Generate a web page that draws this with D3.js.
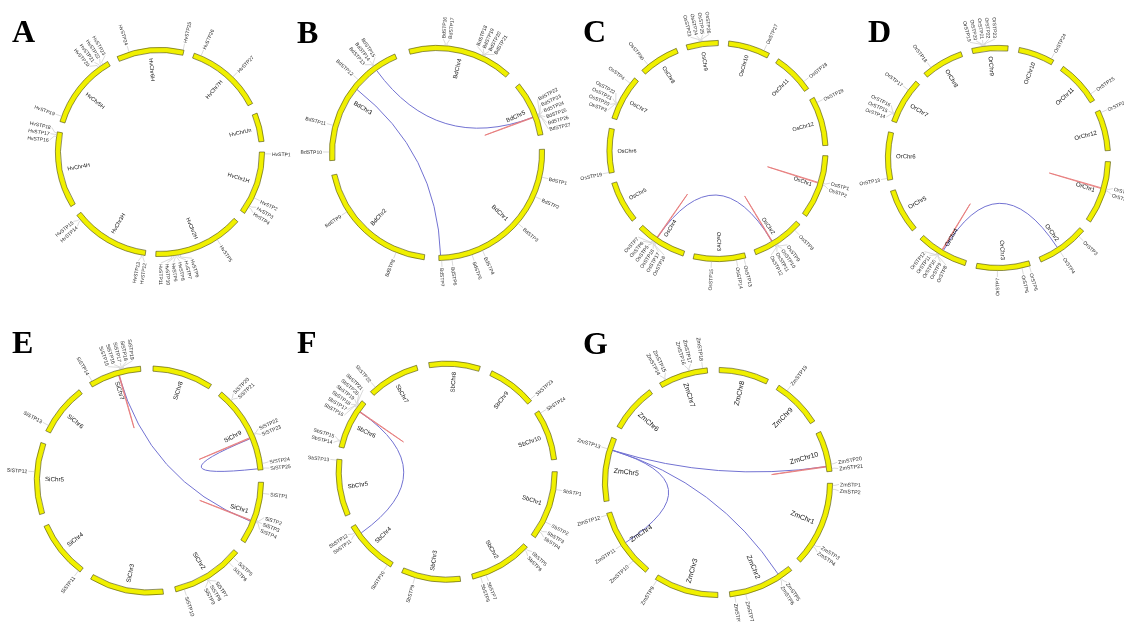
<!DOCTYPE html>
<html lang="en">
<head>
<meta charset="UTF-8">
<title>STP gene circos panels</title>
<script src="https://cdnjs.cloudflare.com/ajax/libs/d3/7.8.5/d3.min.js"></script>
<style>
    body { margin: 0; background: #fff; }
    svg { display: block; will-change: transform; }
    .gene { font-family: 'Liberation Sans', Arial, sans-serif; fill: #2a2a2a; }
    .chrname { font-family: 'Liberation Sans', Arial, sans-serif; fill: #111; }
    .letter { font-family: 'Liberation Serif', 'Times New Roman', serif; font-weight: bold; fill: #000; }
</style>
</head>
<body>
<svg id="chart" width="1124" height="622"></svg>
<script>
// ---------- A : barley ----------
const hvChr = ["HvChr1H", "HvChr2H", "HvChr3H", "HvChr4H", "HvChr5H", "HvChr6H", "HvChr7H", "HvChrUn"];
const hvLen = [36, 50.5, 44.5, 42.6, 43, 37.5, 43.2, 16];
const hvGenes = [
    ["HvSTP1", "HvChr1H", 1], ["HvSTP2", "HvChr1H", 26], ["HvSTP3", "HvChr1H", 31], ["HvSTP4", "HvChr1H", 32],
    ["HvSTP5", "HvChr2H", 15],
    ["HvSTP6", "HvChr2H", 37], ["HvSTP7", "HvChr2H", 38], ["HvSTP8", "HvChr2H", 39],
    ["HvSTP9", "HvChr2H", 40], ["HvSTP10", "HvChr2H", 41], ["HvSTP11", "HvChr2H", 42],
    ["HvSTP12", "HvChr3H", 1], ["HvSTP13", "HvChr3H", 2],
    ["HvSTP14", "HvChr3H", 41], ["HvSTP15", "HvChr3H", 42],
    ["HvSTP16", "HvChr4H", 40], ["HvSTP17", "HvChr4H", 41], ["HvSTP18", "HvChr4H", 42],
    ["HvSTP19", "HvChr5H", 3],
    ["HvSTP20", "HvChr5H", 37], ["HvSTP21", "HvChr5H", 38], ["HvSTP22", "HvChr5H", 39], ["HvSTP23", "HvChr5H", 40],
    ["HvSTP24", "HvChr6H", 7], ["HvSTP25", "HvChr6H", 37],
    ["HvSTP26", "HvChr7H", 4], ["HvSTP27", "HvChr7H", 25]
];
const hvLinks = [];
const hvTandem = [];

// ---------- B : Brachypodium ----------
const bdChr = ["BdChr1", "BdChr2", "BdChr3", "BdChr4", "BdChr5"];
const bdLen = [91, 71.2, 71, 57.4, 30.1];
const bdGenes = [
    ["BdSTP1", "BdChr1", 15], ["BdSTP2", "BdChr1", 26], ["BdSTP3", "BdChr1", 43], ["BdSTP4", "BdChr1", 67],
    ["BdSTP5", "BdChr1", 73], ["BdSTP6", "BdChr1", 84], ["BdSTP7", "BdChr1", 89.5],
    ["BdSTP8", "BdChr2", 15.5], ["BdSTP9", "BdChr2", 50],
    ["BdSTP10", "BdChr3", 4.6], ["BdSTP11", "BdChr3", 19], ["BdSTP12", "BdChr3", 47],
    ["BdSTP13", "BdChr3", 57.5], ["BdSTP14", "BdChr3", 58], ["BdSTP15", "BdChr3", 58.5],
    ["BdSTP16", "BdChr4", 19.5], ["BdSTP17", "BdChr4", 20.5],
    ["BdSTP18", "BdChr4", 40], ["BdSTP19", "BdChr4", 40.5], ["BdSTP20", "BdChr4", 41], ["BdSTP21", "BdChr4", 41.5],
    ["BdSTP22", "BdChr5", 18.8], ["BdSTP23", "BdChr5", 19.2], ["BdSTP24", "BdChr5", 19.6],
    ["BdSTP25", "BdChr5", 20], ["BdSTP26", "BdChr5", 20.4], ["BdSTP27", "BdChr5", 20.8]
];
const bdLinks = [["BdChr3", 57.9, "BdChr5", 19.6], ["BdChr3", 42.5, "BdChr1", 90]];
const bdTandem = [["BdChr5", 19.4, "BdChr5", 19.8]];

// ---------- C : rice (Os) ----------
const osChr = ["OsChr1", "OsChr2", "OsChr3", "OsChr4", "OsChr5", "OsChr6", "OsChr7", "OsChr8", "OsChr9", "OsChr10", "OsChr11", "OsChr12"];
const osLen = [33.8, 28, 27.6, 27, 22.4, 23.5, 24.1, 21.3, 16.9, 22.2, 22.1, 26.1];
const osGenes = [
    ["OsSTP1", "OsChr1", 14.5], ["OsSTP2", "OsChr1", 15.5],
    ["OsSTP8", "OsChr2", 4],
    ["OsSTP9", "OsChr2", 15.5], ["OsSTP10", "OsChr2", 16], ["OsSTP11", "OsChr2", 16.5], ["OsSTP12", "OsChr2", 17],
    ["OsSTP13", "OsChr3", 1], ["OsSTP14", "OsChr3", 5], ["OsSTP15", "OsChr3", 18],
    ["OsSTP16", "OsChr4", 15.5], ["OsSTP17", "OsChr4", 16], ["OsSTP18", "OsChr4", 16.5],
    ["OsSTP5", "OsChr4", 17], ["OsSTP6", "OsChr4", 17.5], ["OsSTP7", "OsChr4", 18],
    ["OsSTP19", "OsChr6", 0.4],
    ["OsSTP3", "OsChr7", 7], ["OsSTP20", "OsChr7", 7.5], ["OsSTP21", "OsChr7", 8], ["OsSTP22", "OsChr7", 8.5],
    ["OsSTP4", "OsChr7", 20.5],
    ["OsSTP30", "OsChr8", 4.3],
    ["OsSTP23", "OsChr9", 7], ["OsSTP24", "OsChr9", 7.5], ["OsSTP25", "OsChr9", 8], ["OsSTP26", "OsChr9", 8.5],
    ["OsSTP27", "OsChr10", 19], ["OsSTP28", "OsChr11", 17.7], ["OsSTP29", "OsChr12", 3]
];
const osLinks = [["OsChr4", 16.7, "OsChr2", 17.2]];
const osTandem = [["OsChr4", 16.5, "OsChr4", 16.9], ["OsChr2", 17, "OsChr2", 17.4], ["OsChr1", 14.8, "OsChr1", 15.2]];

// ---------- D : Oryza rufipogon (Or) ----------
const orChr = ["OrChr1", "OrChr2", "OrChr3", "OrChr4", "OrChr5", "OrChr6", "OrChr7", "OrChr8", "OrChr9", "OrChr10", "OrChr11", "OrChr12"];
const orLen = [32.8, 27.1, 28, 26.8, 23.2, 24.9, 23.9, 21.9, 18.7, 18.8, 23.6, 21.3];
const orGenes = [
    ["OrSTP1", "OrChr1", 14], ["OrSTP2", "OrChr1", 15],
    ["OrSTP3", "OrChr2", 3.7], ["OrSTP4", "OrChr2", 16],
    ["OrSTP5", "OrChr3", 0.5], ["OrSTP6", "OrChr3", 4.4], ["OrSTP7", "OrChr3", 17],
    ["OrSTP8", "OrChr4", 14.2], ["OrSTP9", "OrChr4", 14.6], ["OrSTP10", "OrChr4", 15],
    ["OrSTP11", "OrChr4", 15.4], ["OrSTP12", "OrChr4", 15.8],
    ["OrSTP13", "OrChr6", 1],
    ["OrSTP14", "OrChr7", 3.5], ["OrSTP15", "OrChr7", 4], ["OrSTP16", "OrChr7", 4.5], ["OrSTP17", "OrChr7", 18],
    ["OrSTP18", "OrChr8", 4.6],
    ["OrSTP19", "OrChr9", 5], ["OrSTP20", "OrChr9", 5.5], ["OrSTP21", "OrChr9", 6], ["OrSTP22", "OrChr9", 6.5], ["OrSTP23", "OrChr9", 7],
    ["OrSTP24", "OrChr10", 17.3], ["OrSTP25", "OrChr11", 19.8], ["OrSTP26", "OrChr12", 1.3]
];
const orLinks = [["OrChr4", 13.5, "OrChr2", 16]];
const orTandem = [["OrChr4", 14, "OrChr4", 14.4], ["OrChr1", 14.2, "OrChr1", 14.6]];

// ---------- E : foxtail millet (Si) ----------
const siChr = ["SiChr1", "SiChr2", "SiChr3", "SiChr4", "SiChr5", "SiChr6", "SiChr7", "SiChr8", "SiChr9"];
const siLen = [32, 37.2, 37.9, 29.4, 36.7, 26.7, 27, 31, 45.2];
const siGenes = [
    ["SiSTP1", "SiChr1", 5.6], ["SiSTP2", "SiChr1", 19.5], ["SiSTP3", "SiChr1", 20], ["SiSTP4", "SiChr1", 20.5],
    ["SiSTP5", "SiChr2", 3.2], ["SiSTP6", "SiChr2", 6.5],
    ["SiSTP7", "SiChr2", 19.5], ["SiSTP8", "SiChr2", 20], ["SiSTP9", "SiChr2", 20.5], ["SiSTP10", "SiChr2", 32.8],
    ["SiSTP11", "SiChr4", 1], ["SiSTP12", "SiChr5", 21.7], ["SiSTP13", "SiChr6", 3], ["SiSTP14", "SiChr7", 1.4],
    ["SiSTP15", "SiChr7", 16.5], ["SiSTP16", "SiChr7", 17], ["SiSTP17", "SiChr7", 17.5], ["SiSTP18", "SiChr7", 18], ["SiSTP19", "SiChr7", 18.5],
    ["SiSTP20", "SiChr9", 6], ["SiSTP21", "SiChr9", 6.5],
    ["SiSTP22", "SiChr9", 26.5], ["SiSTP23", "SiChr9", 27],
    ["SiSTP24", "SiChr9", 42], ["SiSTP25", "SiChr9", 44.5]
];
const siLinks = [["SiChr7", 15.3, "SiChr1", 21], ["SiChr9", 28.2, "SiChr9", 44.5]];
const siTandem = [["SiChr7", 15.2, "SiChr7", 15.6], ["SiChr9", 27.6, "SiChr9", 28], ["SiChr1", 20.3, "SiChr1", 20.7]];

// ---------- F : sorghum (Sb) ----------
const sbChr = ["SbChr1", "SbChr2", "SbChr3", "SbChr4", "SbChr5", "SbChr6", "SbChr7", "SbChr8", "SbChr9", "SbChr10"];
const sbLen = [36.7, 33.2, 31.3, 29.4, 30.2, 27, 27.8, 27.1, 26, 27];
const sbGenes = [
    ["SbSTP1", "SbChr1", 9.3], ["SbSTP2", "SbChr1", 27], ["SbSTP3", "SbChr1", 32], ["SbSTP4", "SbChr1", 33],
    ["SbSTP5", "SbChr2", 1], ["SbSTP6", "SbChr2", 2], ["SbSTP7", "SbChr2", 26], ["SbSTP8", "SbChr2", 29],
    ["SbSTP9", "SbChr3", 24],
    ["SbSTP10", "SbChr4", 2], ["SbSTP11", "SbChr4", 25], ["SbSTP12", "SbChr4", 26],
    ["SbSTP13", "SbChr5", 29.7],
    ["SbSTP14", "SbChr6", 2.9], ["SbSTP15", "SbChr6", 3.4],
    ["SbSTP16", "SbChr6", 22.5], ["SbSTP17", "SbChr6", 23], ["SbSTP18", "SbChr6", 23.5],
    ["SbSTP19", "SbChr6", 24], ["SbSTP20", "SbChr6", 24.5], ["SbSTP21", "SbChr6", 25],
    ["SbSTP22", "SbChr7", 3.4],
    ["SbSTP23", "SbChr9", 25], ["SbSTP24", "SbChr10", 1.4]
];
const sbLinks = [["SbChr6", 21.6, "SbChr4", 23.9]];
const sbTandem = [["SbChr6", 21.4, "SbChr6", 21.8]];

// ---------- G : maize (Zm) ----------
const zmChr = ["ZmChr1", "ZmChr2", "ZmChr3", "ZmChr4", "ZmChr5", "ZmChr6", "ZmChr7", "ZmChr8", "ZmChr9", "ZmChr10"];
const zmLen = [43.4, 34, 32.9, 35.7, 32.7, 24.6, 25.1, 25.4, 25.4, 20.7];
const zmGenes = [
    ["ZmSTP1", "ZmChr1", 1], ["ZmSTP2", "ZmChr1", 3], ["ZmSTP3", "ZmChr1", 32.5], ["ZmSTP4", "ZmChr1", 33.5],
    ["ZmSTP5", "ZmChr2", 6.5], ["ZmSTP6", "ZmChr2", 7.2], ["ZmSTP7", "ZmChr2", 26], ["ZmSTP8", "ZmChr2", 31.5],
    ["ZmSTP9", "ZmChr3", 32],
    ["ZmSTP10", "ZmChr4", 8.4], ["ZmSTP11", "ZmChr4", 18.1], ["ZmSTP12", "ZmChr4", 34.8],
    ["ZmSTP13", "ZmChr5", 26.6],
    ["ZmSTP14", "ZmChr7", 3.1], ["ZmSTP15", "ZmChr7", 3.6], ["ZmSTP16", "ZmChr7", 15.7], ["ZmSTP17", "ZmChr7", 16.2],
    ["ZmSTP18", "ZmChr7", 22.8],
    ["ZmSTP19", "ZmChr9", 4.9],
    ["ZmSTP20", "ZmChr10", 17.1], ["ZmSTP21", "ZmChr10", 19.3]
];
const zmLinks = [["ZmChr5", 26.6, "ZmChr10", 18], ["ZmChr5", 26.6, "ZmChr2", 6.7], ["ZmChr5", 26.6, "ZmChr4", 18.1]];
const zmTandem = [["ZmChr10", 17.8, "ZmChr10", 18.2]];

// panel layout (centre, radius, first chromosome angle in degrees clockwise from top)
const panels = [
    { letter: "A", lx: 12, ly: 42, cx: 160, cy: 152, r: 102, start: 90, gap: 5.84, gf: 5, cf: 5.5,
      chr: hvChr, len: hvLen, genes: hvGenes, links: hvLinks, tandem: hvTandem },
    { letter: "B", lx: 297, ly: 43, cx: 437, cy: 153, r: 105, start: 88, gap: 7.86, gf: 5, cf: 6,
      chr: bdChr, len: bdLen, genes: bdGenes, links: bdLinks, tandem: bdTandem },
    { letter: "C", lx: 583, ly: 42, cx: 717.5, cy: 151, r: 108, start: 92.5, gap: 5.42, gf: 5, cf: 5.5,
      chr: osChr, len: osLen, genes: osGenes, links: osLinks, tandem: osTandem },
    { letter: "D", lx: 868, ly: 42, cx: 998, cy: 158, r: 110, start: 91.9, gap: 5.75, gf: 5, cf: 6,
      chr: orChr, len: orLen, genes: orGenes, links: orLinks, tandem: orTandem },
    { letter: "E", lx: 12, ly: 353, cx: 149, cy: 480.5, r: 112, start: 90.9, gap: 6.32, gf: 5.2, cf: 6.2,
      chr: siChr, len: siLen, genes: siGenes, links: siLinks, tandem: siTandem },
    { letter: "F", lx: 297, ly: 353, cx: 446.7, cy: 471.7, r: 108, start: 90, gap: 6.43, gf: 5, cf: 6,
      chr: sbChr, len: sbLen, genes: sbGenes, links: sbLinks, tandem: sbTandem },
    { letter: "G", lx: 583, ly: 354, cx: 717.5, cy: 482.5, r: 112.5, start: 90.4, gap: 6.01, gf: 5.3, cf: 7,
      chr: zmChr, len: zmLen, genes: zmGenes, links: zmLinks, tandem: zmTandem }
];

const rad = d => d * Math.PI / 180;
const pt = (r, a) => [r * Math.sin(rad(a)), -r * Math.cos(rad(a))];

// spread label angles so that neighbours keep at least `sep` degrees apart
function spread(angles, sep) {
    let groups = angles.map((a, i) => ({ idx: [i], c: a }));
    let merged = true;
    while (merged) {
        merged = false;
        for (let k = 1; k < groups.length; k++) {
            const a = groups[k - 1], b = groups[k];
            const aEnd = a.c + (a.idx.length - 1) * sep / 2;
            const bStart = b.c - (b.idx.length - 1) * sep / 2;
            if (bStart - aEnd < sep) {
                const idx = a.idx.concat(b.idx);
                groups.splice(k - 1, 2, { idx, c: d3.mean(idx, i => angles[i]) });
                merged = true;
                break;
            }
        }
    }
    const out = [];
    groups.forEach(gr => gr.idx.forEach((i, j) => out[i] = gr.c + (j - (gr.idx.length - 1) / 2) * sep));
    return out;
}

// radial text: reads outward on the right half, flipped on the left half
function radial(a, outward) {
    const m = ((a % 360) + 360) % 360;
    const right = m < 180;
    return {
        rot: right ? m - 90 : m + 90,
        anchor: right === outward ? "start" : "end"
    };
}

const svg = d3.select("#chart");

function drawPanel(p) {
    const n = p.chr.length;
    const span = d3.scaleLinear().domain([0, d3.sum(p.len)]).range([0, 360 - n * p.gap]);
    const cum = [0, ...d3.cumsum(p.len)];
    const chrStart = {};
    p.chr.forEach((c, i) => chrStart[c] = p.start + span(cum[i]) + i * p.gap);
    const angle = (c, pos) => chrStart[c] + span(pos);

    svg.append("text").attr("class", "letter")
        .attr("x", p.lx).attr("y", p.ly)
        .attr("font-size", 32)
        .text(p.letter);

    const g = svg.append("g").attr("transform", `translate(${p.cx},${p.cy})`);

    // links (blue) then tandem duplications (red)
    const linkPath = l => {
        const a = pt(p.r - 3, angle(l[0], l[1]));
        const b = pt(p.r - 3, angle(l[2], l[3]));
        return `M${a}Q0,0 ${b}`;
    };
    g.append("g").selectAll("path").data(p.links).join("path")
        .attr("d", linkPath)
        .attr("fill", "none")
        .attr("stroke", "#7272d2")
        .attr("stroke-width", 1);
    g.append("g").selectAll("path").data(p.tandem).join("path")
        .attr("d", linkPath)
        .attr("fill", "none")
        .attr("stroke", "#e67a7a")
        .attr("stroke-width", 0.9);

    // chromosome ring
    const arc = d3.arc().innerRadius(p.r - 2.6).outerRadius(p.r + 2.6);
    g.append("g").selectAll("path").data(p.chr).join("path")
        .attr("d", (c, i) => arc({ startAngle: rad(chrStart[c]), endAngle: rad(chrStart[c] + span(p.len[i])) }))
        .attr("fill", "#f0f000")
        .attr("stroke", "#4a4a10")
        .attr("stroke-width", 0.6);

    // chromosome names inside the ring
    g.append("g").selectAll("text").data(p.chr).join("text")
        .attr("class", "chrname")
        .attr("font-size", p.cf)
        .attr("dominant-baseline", "central")
        .each(function (c, i) {
            const m = chrStart[c] + span(p.len[i]) / 2;
            const t = radial(m, false);
            const [x, y] = pt(p.r - 8, m);
            d3.select(this)
                .attr("text-anchor", t.anchor)
                .attr("transform", `translate(${x},${y}) rotate(${t.rot})`);
        })
        .text(c => c);

    // gene labels outside the ring
    const ga = p.genes.map(d => angle(d[1], d[2]));
    const order = d3.range(ga.length).sort((i, j) => ga[i] - ga[j]);
    const sep = 6.4 / (p.r + 10) * 180 / Math.PI;
    const spreadSorted = spread(order.map(i => ga[i]), sep);
    const la = [];
    order.forEach((i, k) => la[i] = spreadSorted[k]);

    const gl = g.append("g");
    gl.selectAll("path").data(p.genes).join("path")
        .attr("d", (d, i) => `M${pt(p.r + 2.6, ga[i])}L${pt(p.r + 5, ga[i])}L${pt(p.r + 9, la[i])}`)
        .attr("fill", "none")
        .attr("stroke", "#b4b4b4")
        .attr("stroke-width", 0.5);
    gl.selectAll("text").data(p.genes).join("text")
        .attr("class", "gene")
        .attr("font-size", p.gf)
        .attr("dominant-baseline", "central")
        .each(function (d, i) {
            const t = radial(la[i], true);
            const [x, y] = pt(p.r + 10, la[i]);
            d3.select(this)
                .attr("text-anchor", t.anchor)
                .attr("transform", `translate(${x},${y}) rotate(${t.rot})`);
        })
        .text(d => d[0]);
}

panels.forEach(drawPanel);
</script>
</body>
</html>
